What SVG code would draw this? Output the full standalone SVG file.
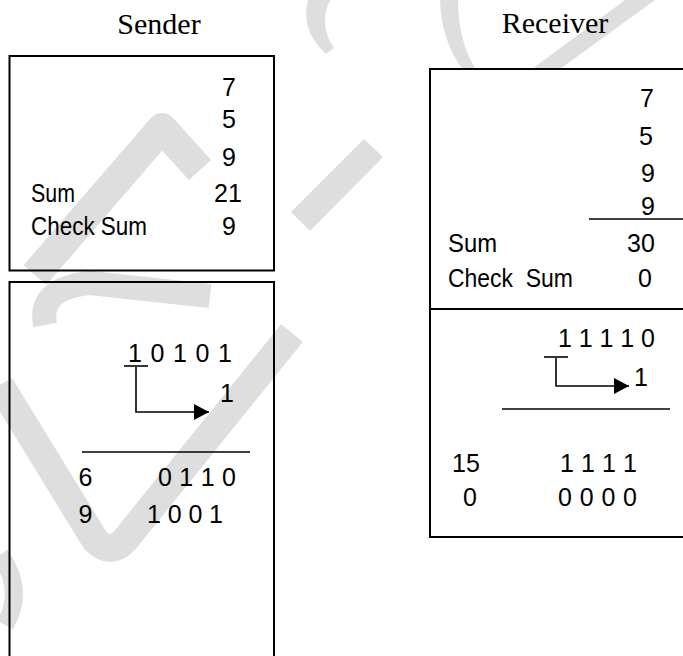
<svg xmlns="http://www.w3.org/2000/svg" width="683" height="656" viewBox="0 0 683 656">
<style>
.t{font-family:"Liberation Sans",Arial,sans-serif;font-size:25px;fill:#000}
.h{font-family:"Liberation Serif","Times New Roman",serif;font-size:30px;fill:#000}
.m{text-anchor:middle}
.box{fill:none;stroke:#000;stroke-width:2}
.ln{fill:none;stroke:#000;stroke-width:1.6}
.wm{fill:#dedede;stroke:none}
.ws{fill:none;stroke:#dedede;stroke-linecap:butt;stroke-linejoin:round}
</style>
<defs>
<marker id="ah" markerUnits="userSpaceOnUse" markerWidth="17" markerHeight="17" refX="15" refY="8" orient="auto">
<path d="M0,0 L15,8 L0,16 Z" fill="#000"/>
</marker>
</defs>
<rect width="683" height="656" fill="#fff"/>
<g id="watermark">
<polygon class="wm" points="291,212 310,231 383,157 364,139"/>
<path class="wm" d="M308,0 L330,0 Q318,25 334,48 L326,54 Q300,30 308,0 Z"/>
<path class="wm" d="M440,0 L458,0 Q458,40 475,68 L463,70 Q441,40 440,0 Z"/>
<polygon class="wm" points="532,69 560,69 655,0 625,0"/>
<path class="ws" stroke-width="30" d="M200,170 L162,128 L35,275"/>
<path class="ws" stroke-width="24" d="M45,325 Q38,288 90,283 L210,296"/>
<path class="ws" stroke-width="28" d="M0,385 L95,540 Q110,556 125,540 L292,333"/>
<path class="ws" stroke-width="18" d="M0,555 Q25,590 5,625"/>
</g>
<g id="sender">
<text class="h m" x="159" y="34">Sender</text>
<g id="sender-sum">
<rect class="box" x="9.5" y="56" width="264.5" height="214.5"/>
<text class="t m" x="229" y="96">7</text>
<text class="t m" x="229" y="128">5</text>
<text class="t m" x="229" y="166">9</text>
<text class="t" x="31" y="202" textLength="44" lengthAdjust="spacingAndGlyphs">Sum</text>
<text class="t m" x="228" y="202">21</text>
<text class="t" x="31" y="235" textLength="116" lengthAdjust="spacingAndGlyphs">Check Sum</text>
<text class="t m" x="229" y="235">9</text>
</g>
<g id="sender-binary">
<rect class="box" x="9.5" y="282" width="264.5" height="400"/>
<text class="t" x="128" y="362" textLength="104" lengthAdjust="spacing">1 0 1 0 1</text>
<text class="t m" x="227" y="402">1</text>
<text class="t m" x="85.5" y="486">6</text>
<text class="t" x="158" y="486" textLength="78" lengthAdjust="spacing">0 1 1 0</text>
<text class="t m" x="85.5" y="523">9</text>
<text class="t" x="147" y="523" textLength="76" lengthAdjust="spacing">1 0 0 1</text>
</g>
</g>
<g id="receiver">
<text class="h m" x="555" y="33">Receiver</text>
<g id="receiver-sum">
<path class="box" d="M690,69 H430 V309 H690"/>
<text class="t m" x="647" y="107">7</text>
<text class="t m" x="646" y="145">5</text>
<text class="t m" x="648" y="182">9</text>
<text class="t m" x="648" y="215">9</text>
<text class="t" x="448" y="252" textLength="49" lengthAdjust="spacingAndGlyphs">Sum</text>
<text class="t m" x="641" y="252">30</text>
<text class="t" x="448" y="287" textLength="125" lengthAdjust="spacingAndGlyphs" xml:space="preserve">Check  Sum</text>
<text class="t m" x="645" y="287">0</text>
</g>
<g id="receiver-binary">
<path class="box" d="M430,309 V537 H690"/>
<text class="t" x="558" y="347" textLength="97" lengthAdjust="spacing">1 1 1 1 0</text>
<text class="t" x="634" y="386">1</text>
<text class="t" x="452" y="472">15</text>
<text class="t" x="560" y="472" textLength="77" lengthAdjust="spacing">1 1 1 1</text>
<text class="t" x="463" y="506">0</text>
<text class="t" x="558" y="506" textLength="79" lengthAdjust="spacing">0 0 0 0</text>
</g>
</g>
<g id="connectors">
<line class="ln" x1="124" y1="366" x2="148" y2="366"/>
<path class="ln" d="M136,367 V412 H209" marker-end="url(#ah)"/>
<line class="ln" x1="82" y1="452" x2="250" y2="452"/>
<line class="ln" x1="589" y1="219" x2="683" y2="219"/>
<line class="ln" x1="544" y1="357" x2="568" y2="357"/>
<path class="ln" d="M556,358 V386 H629" marker-end="url(#ah)"/>
<line class="ln" x1="502" y1="409" x2="670" y2="409"/>
</g>
</svg>
